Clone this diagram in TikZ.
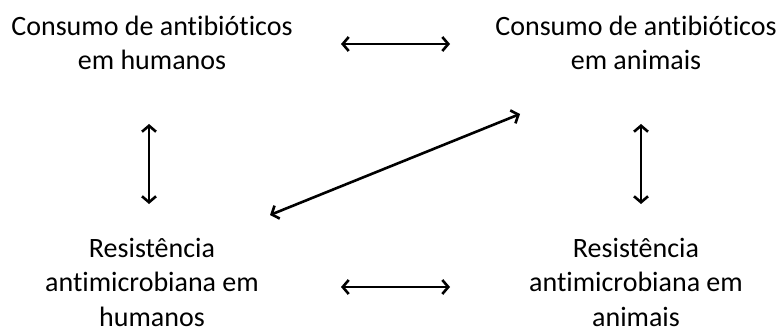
\documentclass[tikz,border=0pt]{standalone}
\usepackage{fontspec}
\setmainfont[Ligatures=NoCommon]{Carlito}
\usetikzlibrary{arrows.meta}
\tikzset{
  lbl/.style={align=center, inner sep=0pt, font=\fontsize{28}{34.5}\selectfont},
  barb/.tip={Straight Barb[length=6pt,width=14pt,line width=2.6pt]},
  link/.style={line width=2.6pt, {barb}-{barb}}
}
\begin{document}
\begin{tikzpicture}[x=1pt,y=-1pt]
  \useasboundingbox (0,0) rectangle (781,334);
  % four labels
  \node[lbl] (ch) at (152,43) {Consumo de antibióticos\\em humanos};
  \node[lbl] (ca) at (636,43) {Consumo de antibióticos\\em animais};
  \node[lbl] (rh) at (152,282) {Resistência\\antimicrobiana em\\humanos};
  \node[lbl] (ra) at (636,282) {Resistência\\antimicrobiana em\\animais};
  % arrow end points
  \coordinate (t1) at (341,44);  \coordinate (t2) at (450,44);
  \coordinate (b1) at (341,287); \coordinate (b2) at (450,287);
  \coordinate (l1) at (149,124); \coordinate (l2) at (149,204);
  \coordinate (r1) at (641,124); \coordinate (r2) at (641,204);
  \coordinate (d1) at (270,215); \coordinate (d2) at (520,114);
  % connectors
  \draw[link] (t1) -- (t2);
  \draw[link] (b1) -- (b2);
  \draw[link] (l1) -- (l2);
  \draw[link] (r1) -- (r2);
  \draw[link] (d1) -- (d2);
\end{tikzpicture}
\end{document}
